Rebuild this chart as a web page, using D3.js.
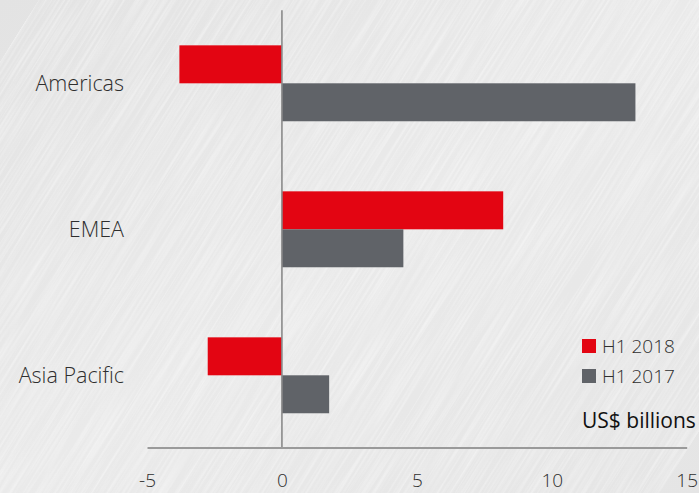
<!DOCTYPE html>
<html>
<head>
<meta charset="utf-8">
<script src="https://cdn.jsdelivr.net/npm/d3@7"></script>
<style>
  html, body { margin: 0; padding: 0; background: #e9e9e9; }
  svg { display: block; }
  text { font-family: "Open Sans", "Noto Sans", sans-serif; }
</style>
</head>
<body>
<svg id="chart" width="699" height="493"></svg>
<script>
// Regional figures, US$ billions
const regions = ["Americas", "EMEA", "Asia Pacific"];
const seriesNames = ["H1 2018", "H1 2017"];
const h1_2018 = [-3.8, 8.2, -2.75];
const h1_2017 = [13.1, 4.5, 1.75];
const xTicks = [-5, 0, 5, 10, 15];
const unitLabel = "US$ billions";

const colors = { "H1 2018": "#e30512", "H1 2017": "#606368" };

const rows = regions.map((r, i) => ({
  region: r,
  values: [
    { series: "H1 2018", value: h1_2018[i] },
    { series: "H1 2017", value: h1_2017[i] }
  ]
}));

const svg = d3.select("#chart");
const W = 699, H = 493;

// Soft brushed backdrop
const defs = svg.append("defs");
const bg = defs.append("linearGradient").attr("id", "bg")
  .attr("x1", "0").attr("y1", "0").attr("x2", "1").attr("y2", "1");
bg.append("stop").attr("offset", "0").attr("stop-color", "#e3e3e3");
bg.append("stop").attr("offset", "0.5").attr("stop-color", "#eaeaea");
bg.append("stop").attr("offset", "1").attr("stop-color", "#e5e5e5");

const grain = defs.append("filter").attr("id", "grain")
  .attr("x", 0).attr("y", 0).attr("width", "100%").attr("height", "100%");
grain.append("feTurbulence").attr("type", "fractalNoise")
  .attr("baseFrequency", "0.01 0.45").attr("numOctaves", 2).attr("seed", 7);
grain.append("feColorMatrix").attr("type", "matrix")
  .attr("values", "0 0 0 0 1  0 0 0 0 1  0 0 0 0 1  0 0 0 1.2 -0.45");

svg.append("rect").attr("width", W).attr("height", H).attr("fill", "url(#bg)");
svg.append("rect").attr("width", W * 1.6).attr("height", H * 1.6)
  .attr("x", -W * 0.3).attr("y", -H * 0.3)
  .attr("filter", "url(#grain)").attr("opacity", 0.7)
  .attr("transform", `rotate(-58 ${W / 2} ${H / 2})`);

// Scales
const x = d3.scaleLinear().domain([-5, 15]).range([147, 686.7]);
const y = d3.scaleBand().domain(regions).range([10.3, 448.3])
  .paddingInner(0.48).paddingOuter(0.24);
const ySub = d3.scaleBand().domain(seriesNames).range([0, y.bandwidth()]);

// Bars
const groups = svg.append("g").selectAll("g").data(rows).join("g")
  .attr("transform", d => `translate(0,${y(d.region)})`);
groups.selectAll("rect").data(d => d.values).join("rect")
  .attr("x", d => x(Math.min(0, d.value)))
  .attr("width", d => Math.abs(x(d.value) - x(0)))
  .attr("y", d => ySub(d.series))
  .attr("height", ySub.bandwidth())
  .attr("fill", d => colors[d.series]);

// Category labels
svg.append("g").selectAll("text").data(regions).join("text")
  .attr("x", 124)
  .attr("y", d => y(d) + y.bandwidth() / 2)
  .attr("dy", "0.36em")
  .attr("text-anchor", "end")
  .attr("font-size", 21.5)
  .attr("font-weight", 300)
  .attr("fill", "#2e2e2e")
  .text(d => d);

// Zero line
svg.append("line")
  .attr("x1", x(0)).attr("x2", x(0))
  .attr("y1", 10.3).attr("y2", 448)
  .attr("stroke", "#8a8a8a").attr("stroke-width", 1.6);

// X axis
const xAxis = svg.append("g").attr("transform", "translate(0,447.5)")
  .call(d3.axisBottom(x).tickValues(xTicks).tickSize(0).tickPadding(26)
    .tickFormat(d => d3.format("d")(d).replace("−", "-")));
xAxis.select(".domain").attr("stroke", "#9a9a9a").attr("stroke-width", 2);
xAxis.selectAll("text")
  .attr("font-size", 19)
  .attr("font-weight", 300)
  .attr("fill", "#2e2e2e")
  .attr("font-family", "'Open Sans', 'Noto Sans', sans-serif");

// Legend
const legend = svg.append("g").attr("transform", "translate(582,339)");
seriesNames.forEach((s, i) => {
  const g = legend.append("g").attr("transform", `translate(0,${i * 30})`);
  g.append("rect").attr("width", 14).attr("height", 14).attr("fill", colors[s]);
  g.append("text").attr("x", 20).attr("y", 7).attr("dy", "0.36em")
    .attr("font-size", 19).attr("font-weight", 300).attr("fill", "#2e2e2e")
    .text(s);
});
svg.append("text").attr("x", 582).attr("y", 428)
  .attr("font-size", 21).attr("font-weight", 400).attr("fill", "#111")
  .text(unitLabel);
</script>
</body>
</html>
